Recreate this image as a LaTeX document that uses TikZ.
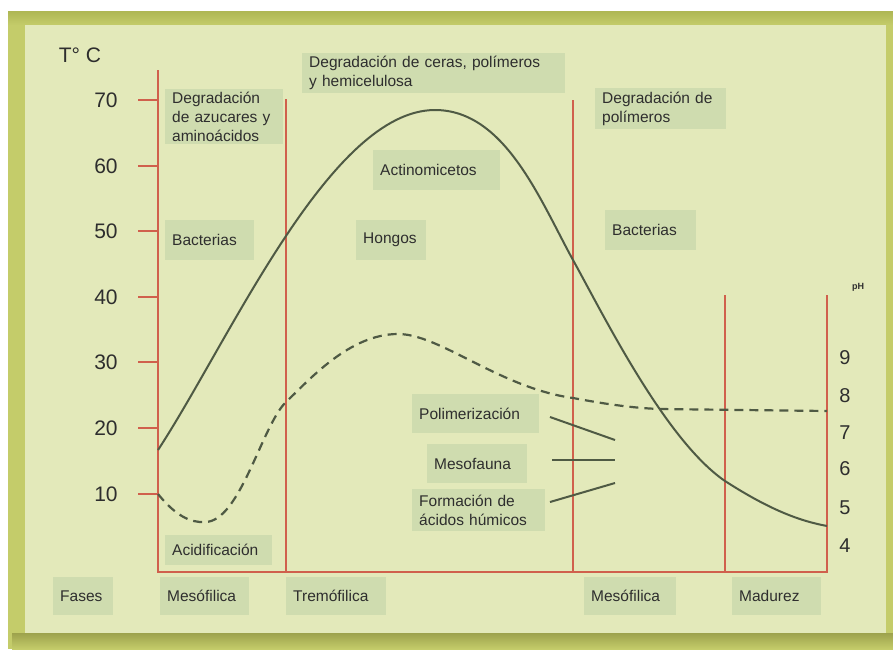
\documentclass[tikz,border=0pt]{standalone}
\usepackage{fontspec}
\setmainfont{Liberation Sans}
\definecolor{olivec}{HTML}{C4CC6A}
\definecolor{olived}{HTML}{AEB754}
\definecolor{shadowc}{HTML}{9DA24C}
\definecolor{panelc}{HTML}{E3E9BA}
\definecolor{boxc}{HTML}{CFDCAF}
\definecolor{redc}{HTML}{D0604C}
\definecolor{curvec}{HTML}{4F5A44}
\definecolor{textc}{HTML}{2E2E2E}
\tikzset{
  redl/.style={draw=redc, line width=2.4pt},
  curvel/.style={draw=curvec, line width=2pt},
  dashl/.style={draw=curvec, line width=2.2pt, dash pattern=on 9pt off 6pt},
  lbl/.style={fill=boxc, inner xsep=7pt, inner ysep=0pt, align=left, anchor=north west,
              text=textc, font=\fontsize{15.5}{19}\selectfont},
  ticklbl/.style={text=textc, font=\fontsize{21}{21}\selectfont, inner sep=0pt},
  phlbl/.style={text=textc, font=\fontsize{20}{20}\selectfont, inner sep=0pt}
}
\begin{document}
\begin{tikzpicture}[x=1pt,y=-1pt]
\useasboundingbox (0,0) rectangle (893,649);
\fill[white] (0,0) rectangle (893,649);
% frame
\fill[olivec] (8,11) rectangle (893,649);
\shade[top color=olived, bottom color=olivec] (8,11) rectangle (893,25);
\shade[top color=shadowc, bottom color=olivec] (12,633) rectangle (893,649);
\fill[panelc] (25,25) rectangle (886,633);

% boxes
\node[lbl, text width=104pt, minimum height=55pt] (azu) at (165,89) {Degradación\\de azucares y\\aminoácidos};
\node[lbl, text width=249pt, minimum height=40pt] (cer) at (302,53) {Degradación de ceras, polímeros\\y hemicelulosa};
\node[lbl, text width=117pt, minimum height=41pt] (pol) at (595,88) {Degradación de\\polímeros};
\node[lbl, text width=113pt, minimum height=40pt] (act) at (373,150) {Actinomicetos};
\node[lbl, text width=75pt, minimum height=40pt] (bac1) at (165,220) {Bacterias};
\node[lbl, text width=56pt, minimum height=40pt] (hon) at (356,220) {Hongos};
\node[lbl, text width=77pt, minimum height=40pt] (bac2) at (605,210) {Bacterias};
\node[lbl, text width=113pt, minimum height=39pt] (polim) at (412,394) {Polimerización};
\node[lbl, text width=86pt, minimum height=39pt] (meso) at (427,444) {Mesofauna};
\node[lbl, text width=119pt, minimum height=42pt] (form) at (412,489) {Formación de\\ácidos húmicos};
\node[lbl, text width=93pt, minimum height=30pt] (acid) at (165,535) {Acidificación};
\node[lbl, text width=46pt, minimum height=38pt] (fases) at (53,577) {Fases};
\node[lbl, text width=75pt, minimum height=38pt] (mes1) at (160,577) {Mesófilica};
\node[lbl, text width=86pt, minimum height=38pt] (tre) at (286,577) {Tremófilica};
\node[lbl, text width=78pt, minimum height=38pt] (mes2) at (584,577) {Mesófilica};
\node[lbl, text width=75pt, minimum height=38pt] (mad) at (732,577) {Madurez};

% axes and phase lines
\coordinate (bl) at (158,572);
\coordinate (br) at (827,572);
\draw[redl] (158,70) -- (bl) -- (br) -- (827,295);
\draw[redl] (286,99) -- (286,572);
\draw[redl] (573,100) -- (573,572);
\draw[redl] (725,295) -- (725,572);

% ticks and labels
\node[text=textc, font=\fontsize{21}{21}\selectfont, inner sep=0pt] (tc) at (80,55) {T° C};
\foreach \t/\yy in {70/100,60/166,50/231,40/297,30/362,20/428,10/494}{
  \draw[redl] (138,\yy) -- (158,\yy);
  \node[ticklbl] (t\t) at (106,\yy) {\t};
}
\foreach \p/\yy in {9/358,8/396,7/433,6/469,5/508,4/546}{
  \node[phlbl] (p\p) at (845,\yy) {\p};
}
\node[text=textc, font=\bfseries\fontsize{9}{9}\selectfont, inner sep=0pt] (ph) at (858,287) {pH};

% temperature curve
\draw[curvel] (158,450) .. controls (230,340) and (330,110) .. (435,110)
  .. controls (505,110) and (540,200) .. (573,260)
  .. controls (603,314) and (665,440) .. (725,481)
  .. controls (770,510) and (800,521) .. (827,526);

% pH curve
\draw[dashl] (158,494) .. controls (175,515) and (190,523) .. (205,522)
  .. controls (240,522) and (262,425) .. (286,402)
  .. controls (310,379) and (350,334) .. (398,334)
  .. controls (440,334) and (500,388) .. (573,398)
  .. controls (600,403) and (630,408) .. (660,409)
  -- (827,411);

% short process lines
\coordinate (a1) at (550,417); \coordinate (a2) at (615,440);
\coordinate (b1) at (552,460); \coordinate (b2) at (615,460);
\coordinate (c1) at (550,502); \coordinate (c2) at (615,483);
\draw[curvel] (a1) -- (a2);
\draw[curvel] (b1) -- (b2);
\draw[curvel] (c1) -- (c2);
\end{tikzpicture}
\end{document}
